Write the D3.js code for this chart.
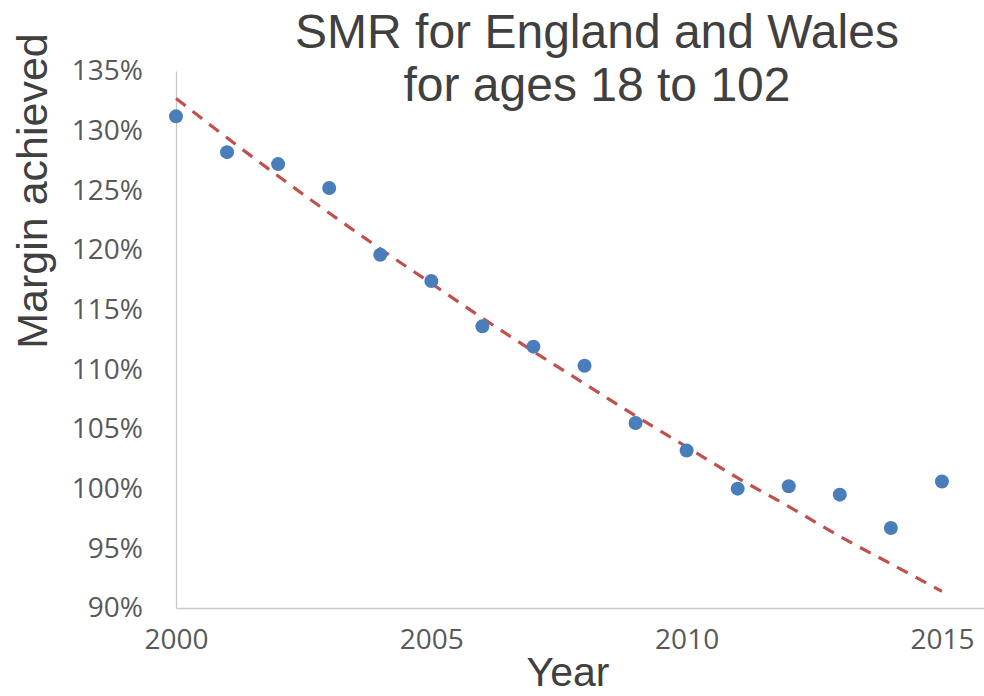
<!DOCTYPE html>
<html>
<head>
<meta charset="utf-8">
<script src="https://cdn.jsdelivr.net/npm/d3@7"></script>
<style>
  html, body { margin: 0; padding: 0; background: #ffffff; }
  svg { display: block; }
</style>
</head>
<body>
<svg id="chart" width="984" height="696"></svg>
<script>
// Years observed
const years = [2000, 2001, 2002, 2003, 2004, 2005, 2006, 2007,
               2008, 2009, 2010, 2011, 2012, 2013, 2014, 2015];
// Margin achieved each year (%)
const margin = [131.2, 128.2, 127.2, 125.2, 119.6, 117.4, 113.6, 111.9,
                110.3, 105.5, 103.2, 100.0, 100.2, 99.5, 96.7, 100.6];
// Exponential trend line, value at each year (%)
const trend = [132.7, 129.4, 126.2, 123.1, 120.1, 117.2, 114.3, 111.5,
               108.8, 106.1, 103.5, 100.9, 98.5, 96.0, 93.7, 91.4];
// Axis ticks
const yTicks = [90, 95, 100, 105, 110, 115, 120, 125, 130, 135];
const xTicks = [2000, 2005, 2010, 2015];

const titleLines = ["SMR for England and Wales", "for ages 18 to 102"];

const svg = d3.select("#chart");

const x = d3.scaleLinear().domain([2000, 2016]).range([176, 993]);
const y = d3.scaleLinear().domain([90, 135]).range([608, 71]);

const axisColor = "#c8c8c8";
const tickColor = "#595959";
const titleColor = "#404040";

// Y axis
const yAxis = svg.append("g")
  .attr("transform", `translate(${x(2000)},0)`)
  .call(d3.axisLeft(y).tickValues(yTicks).tickSize(0).tickPadding(33)
    .tickFormat(d => d + "%"));
yAxis.select(".domain").attr("stroke", axisColor).attr("stroke-width", 1.3);
yAxis.selectAll("text")
  .attr("fill", tickColor)
  .style("font-family", "'Open Sans', sans-serif")
  .style("font-size", "28px");

// X axis
const xAxis = svg.append("g")
  .attr("transform", `translate(0,${y(90)})`)
  .call(d3.axisBottom(x).tickValues(xTicks).tickSize(0).tickPadding(21)
    .tickFormat(d3.format("d")));
xAxis.select(".domain").attr("stroke", axisColor).attr("stroke-width", 1.3);
xAxis.selectAll("text")
  .attr("fill", tickColor)
  .style("font-family", "'Open Sans', sans-serif")
  .style("font-size", "28px");

// Trend line
const line = d3.line()
  .x((d, i) => x(years[i]))
  .y(d => y(d))
  .curve(d3.curveMonotoneX);
svg.append("path")
  .datum(trend)
  .attr("d", line)
  .attr("fill", "none")
  .attr("stroke", "#c0504d")
  .attr("stroke-width", 3.2)
  .attr("stroke-dasharray", "12,9");

// Points
svg.append("g")
  .selectAll("circle")
  .data(margin)
  .join("circle")
  .attr("cx", (d, i) => x(years[i]))
  .attr("cy", d => y(d))
  .attr("r", 7)
  .attr("fill", "#4a7ebb");

// Title
svg.append("text")
  .attr("x", 597)
  .attr("y", 48)
  .attr("text-anchor", "middle")
  .attr("fill", titleColor)
  .style("font-family", "'Liberation Sans', Arial, sans-serif")
  .style("font-size", "48px")
  .selectAll("tspan")
  .data(titleLines)
  .join("tspan")
  .attr("x", 597)
  .attr("dy", (d, i) => i === 0 ? 0 : 53)
  .text(d => d);

// Axis titles
svg.append("text")
  .attr("transform", `translate(47,191) rotate(-90)`)
  .attr("text-anchor", "middle")
  .attr("fill", titleColor)
  .style("font-family", "'Liberation Sans', Arial, sans-serif")
  .style("font-size", "43px")
  .text("Margin achieved");

svg.append("text")
  .attr("x", 568)
  .attr("y", 686)
  .attr("text-anchor", "middle")
  .attr("fill", titleColor)
  .style("font-family", "'Liberation Sans', Arial, sans-serif")
  .style("font-size", "41px")
  .text("Year");
</script>
</body>
</html>
